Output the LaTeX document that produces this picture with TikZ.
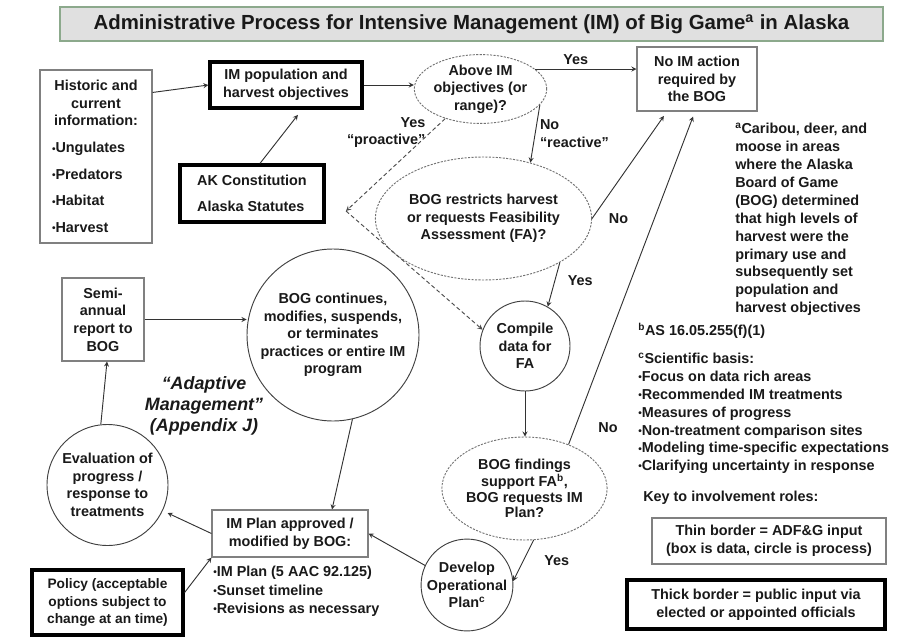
\documentclass[tikz,border=0pt]{standalone}
\usepackage{fontspec}
\setmainfont{Liberation Sans}
\usepackage{graphicx}
\usetikzlibrary{shapes,arrows,calc,backgrounds}

\newcommand{\bul}{\raisebox{.12ex}{\scalebox{.7}{•}}}

\begin{document}
\begin{tikzpicture}[x=0.75pt,y=-0.75pt,font=\bfseries\fontsize{10.8}{13.2}\selectfont,text=black!90]
\tikzset{
    node style box/.style={draw=black!50,line width=0.8pt,rectangle,align=center,inner sep=2pt},
    node style thick/.style={draw=black,line width=2.4pt,rectangle,align=center,inner sep=2pt},
    node style proc/.style={draw=black!75,line width=0.7pt,circle,align=center,inner sep=0pt},
    node style ask/.style={draw=black!55,line width=0.7pt,ellipse,dash pattern=on 1.6pt off 1pt,align=center,inner sep=0pt},
    node style note/.style={align=left,inner sep=0pt},
    every edge/.style={draw=black!80,line width=0.7pt},
    dashed link/.style={draw=black!70,line width=0.7pt,dash pattern=on 3pt off 2pt,-stealth}
    %node style title/.style={fill=black!15},
}
\useasboundingbox (0,0) rectangle (913,642);

% title
\node[draw=green!25!black!45,fill=black!12,line width=1.2pt,minimum width=617pt,minimum height=25.5pt,inner sep=0pt]
  (title) at (471.5,24) {\fontsize{15.3}{18}\selectfont Administrative Process for Intensive Management (IM) of Big Game\textsuperscript{a} in Alaska};

% data boxes and processes
\node[node style box,minimum width=84pt,minimum height=129.75pt] (hist) at (96,156.5)
  {\parbox{66pt}{\centering Historic and\\current\\information:\par\vspace{7pt}\raggedright
   \bul Ungulates\\[6.7pt]\bul Predators\\[6.7pt]\bul Habitat\\[6.7pt]\bul Harvest}};
\node[node style thick,minimum width=114pt,minimum height=34.5pt] (impop) at (286,85) {IM population and\\harvest objectives};
\node[node style thick,minimum width=108pt,minimum height=42.75pt,align=left] (akc) at (252,193.5) {AK Constitution\\[6.3pt]Alaska Statutes};
\node[node style ask,minimum width=78.75pt,minimum height=51pt] (above) at (480.5,89) {Above IM\\objectives (or\\range)?};
\node[node style box,minimum width=90pt,minimum height=48pt] (noim) at (697,79) {No IM action\\required by\\the BOG};
\node[node style ask,minimum width=140.25pt,minimum height=92.25pt] (restr) at (483.5,218.5) {BOG restricts harvest\\or requests Feasibility\\Assessment (FA)?};
\node[node style proc,minimum size=67.5pt] (compile) at (525,346) {Compile\\data for\\FA};
\node[node style ask,minimum width=101.25pt,minimum height=77.25pt,font=\bfseries\fontsize{10.8}{11.6}\selectfont] (findings) at (524.5,488.5)
  {BOG findings\\support FA\textsuperscript{b},\\BOG requests IM\\Plan?};
\node[node style proc,minimum size=67.5pt] (develop) at (467,585) {Develop\\Operational\\Plan\textsuperscript{c}};
\node[node style box,minimum width=117pt,minimum height=35.25pt] (implan) at (290,533.5) {IM Plan approved /\\modified by BOG:};
\node[node style note,anchor=north west,font=\bfseries\fontsize{10.8}{13.9}\selectfont] (planlist) at (213,566)
  {\bul IM Plan (5 AAC 92.125)\\\bul Sunset timeline\\\bul Revisions as necessary};
\node[node style thick,minimum width=113.25pt,minimum height=48.75pt,font=\bfseries\fontsize{10.3}{13.2}\selectfont] (policy) at (107.5,602.5)
  {Policy (acceptable\\options subject to\\change at an time)};
\node[node style proc,minimum size=90.75pt] (eval) at (107.5,485) {Evaluation of\\progress /\\response to\\treatments};
\node[node style box,minimum width=61.5pt,minimum height=62.25pt] (semi) at (103,319.5) {Semi-\\annual\\report to\\BOG};
\node[node style proc,minimum size=129pt] (bogcont) at (333,335)
  {BOG continues,\\modifies, suspends,\\or terminates\\practices or entire IM\\program};
\node[align=center,font=\bfseries\itshape\fontsize{13.4}{15.75}\selectfont] (adapt) at (204,406)
  {“Adaptive\\Management”\\(Appendix J)};

% notes on the right
\node[node style note,anchor=north west,font=\bfseries\fontsize{10.8}{13.4}\selectfont] (fna) at (735,123)
  {\textsuperscript{a}Caribou, deer, and\\moose in areas\\where the Alaska\\Board of Game\\(BOG) determined\\that high levels of\\harvest were the\\primary use and\\subsequently set\\population and\\harvest objectives};
\node[node style note,anchor=west] (fnb) at (638,331) {\textsuperscript{b}AS 16.05.255(f)(1)};
\node[node style note,anchor=north west,font=\bfseries\fontsize{10.8}{13.35}\selectfont] (fnc) at (638,353)
  {\textsuperscript{c}Scientific basis:\\\bul Focus on data rich areas\\\bul Recommended IM treatments\\\bul Measures of progress\\\bul Non-treatment comparison sites\\\bul Modeling time-specific expectations\\\bul Clarifying uncertainty in response};
\node[node style note,anchor=west] (key) at (643,498) {Key to involvement roles:};
\node[node style box,minimum width=175.5pt,minimum height=34.5pt] (keythin) at (769,541) {Thin border = ADF\&G input\\(box is data, circle is process)};
\node[node style thick,minimum width=193.5pt,minimum height=36.75pt] (keythick) at (756,604.5) {Thick border = public input via\\elected or appointed officials};

% connectors
\coordinate (turn) at (346,211);
\draw[dashed link] (above.220) -- node[left,align=right,pos=.15] {Yes\\“proactive”} (turn);
\draw[dashed link] (turn) -- (compile.159);

\path[-stealth]
  ([yshift=-17.25pt]hist.north east) edge (impop.west)
  ([xshift=6pt]akc.north) edge[shorten >=5pt] ([xshift=12pt]impop.south)
  (impop.east) edge (impop.east -| above.west)
  (above.20) edge node[above,pos=.4] {Yes} (above.20 -| noim.west)
  (above.-15) edge node[right,align=left] {No\\“reactive”} (restr.50)
  (restr.east) edge[shorten >=4pt] node[pos=0,right=9pt] {No} ([xshift=-22.5pt]noim.south)
  (restr.-30) edge node[right=6pt,pos=.4] {Yes} (compile.60)
  (compile.south) edge (compile.south |- findings.north)
  (findings.45) edge[shorten >=4pt] node[pos=.05,right=14pt] {No} ([xshift=-1.5pt]noim.south)
  (findings.-80) edge node[right=12pt] {Yes} (develop.5)
  (develop.155) edge (implan.east)
  (bogcont.-77) edge ([xshift=31.5pt]implan.north)
  (implan.west) edge[shorten >=4pt] (eval.-25)
  ([yshift=7.5pt]policy.east) edge (implan.south west)
  ([xshift=-5pt]eval.north) edge ([xshift=3pt]semi.south)
  (semi.east) edge (semi.east -| bogcont.west);
%  (bogcont) edge [dashed] (eval);
\end{tikzpicture}
\end{document}
